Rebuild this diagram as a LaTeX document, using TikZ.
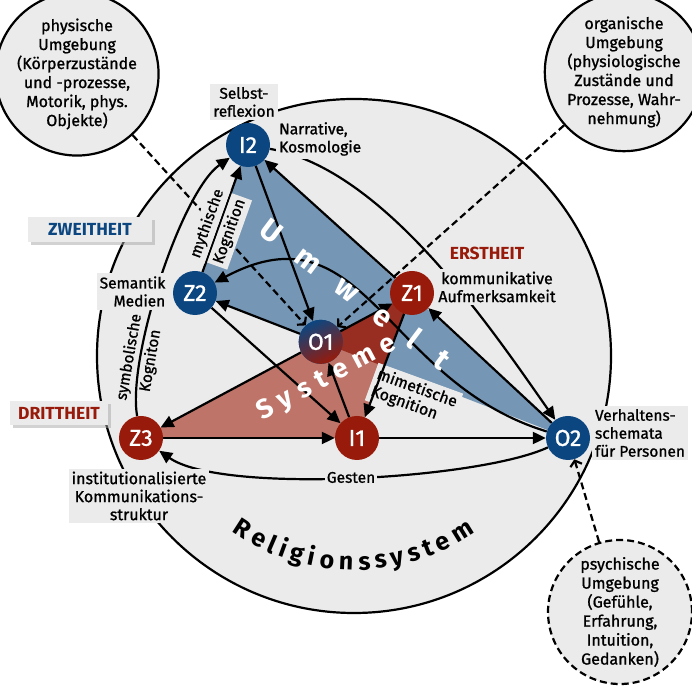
\documentclass[tikz,border=0pt]{standalone}
\usepackage{fontspec}
\setmainfont{Fira Sans}[UprightFeatures={FakeBold=1.1}]
\usetikzlibrary{arrows.meta,shadows}

\definecolor{bgray}{RGB}{235,235,235}
\definecolor{nblue}{RGB}{12,70,128}
\definecolor{nred}{RGB}{152,26,10}
\definecolor{tblue}{RGB}{117,150,181}
\definecolor{tred}{RGB}{190,116,104}
\definecolor{tdark}{RGB}{152,45,33}

\pgfdeclarelayer{front}
\pgfsetlayers{main,front}

\newcommand{\lblfont}{\fontsize{15.5}{18}\selectfont}

\tikzset{
  zone/.style={circle, fill=nblue, text=white, minimum size=44pt, inner sep=0pt,
    font=\fontsize{23}{23}\selectfont},
  zonered/.style={zone, fill=nred},
  flow/.style={line width=2.2pt, -{Triangle[length=13pt,width=12pt]}},
  dashlink/.style={line width=2.2pt, dash pattern=on 7pt off 4pt,
    -{Straight Barb[length=5pt,width=12pt]}},
  lbl/.style={fill=bgray, inner sep=3pt, font=\lblfont},
  world/.style={circle, draw, line width=2.2pt, fill=bgray, inner sep=0pt,
    align=center, font=\fontsize{16}{19}\selectfont},
  stage/.style={fill=bgray, font=\bfseries\fontsize{17.5}{17.5}\selectfont,
    drop shadow={shadow xshift=3pt, shadow yshift=-3pt, fill=black!35}},
  bigword/.style={text=white, font=\bfseries\fontsize{#1}{#1}\selectfont},
  rlg/.style={anchor=base, inner sep=0pt, font=\bfseries\fontsize{25}{25}\selectfont}
}

\begin{document}
\begin{tikzpicture}[x=1pt,y=1pt]
\path[use as bounding box, fill=white] (0,0) rectangle (692,692);

\coordinate (ctr) at (354,336);
\coordinate (i2) at (248,547);
\coordinate (z2) at (195,399);
\coordinate (z1) at (412,399);
\coordinate (z3) at (141,254);
\coordinate (i1) at (357,254);
\coordinate (o2) at (568,254);
\coordinate (o1) at (intersection of z3--z1 and z2--o2);

\begin{pgfonlayer}{front}
  \node[zone] (I2) at (i2) {I2};
  \node[zone] (Z2) at (z2) {Z2};
  \node[zone] (O2) at (o2) {O2};
  \node[zonered] (Z1) at (z1) {Z1};
  \node[zonered] (Z3) at (z3) {Z3};
  \node[zonered] (I1) at (i1) {I1};
  \node[zone, top color=nblue, bottom color=nred, shading angle=25] (O1) at (o1) {O1};
\end{pgfonlayer}

% Religionssystem
\draw[line width=2.2pt, fill=bgray] (ctr) circle[radius=257];
\fill[tblue] (i2) -- (z2) -- (o2) -- cycle;
\fill[tred] (z3) -- (z1) -- (i1) -- cycle;
\begin{scope}
  \clip (i2) -- (z2) -- (o2) -- cycle;
  \fill[tdark] (z3) -- (z1) -- (i1) -- cycle;
\end{scope}
\foreach \ch/\a in {R/237.2,e/242.5,l/246.7,i/249.9,g/254.0,i/258.2,o/262.5,n/267.8,
                    s/272.9,s/277.4,y/282.0,s/286.8,t/291.0,e/295.5,m/301.8}
  \node[rlg, rotate=\a-270] at ([shift={(\a:214)}]ctr) {\ch};

% Umgebungen
\node[world, minimum size=146pt] (phys) at (77,618)
  {physische\\Umgebung\\(Körperzustände\\und -prozesse,\\Motorik, phys.\\Objekte)};
\node[world, minimum size=140pt] (org) at (624,620)
  {organische\\Umgebung\\(physiologische\\Zustände und\\Prozesse, Wahr-\\nehmung)};
\node[world, minimum size=144pt, dash pattern=on 7pt off 4pt] (psy) at (620,80)
  {psychische\\Umgebung\\(Gefühle,\\Erfahrung,\\Intuition,\\Gedanken)};

\draw[dashlink] (phys) -- (O1);
\draw[dashlink] (org) -- (O1);
\draw[dashlink] (psy) -- (O2);

\node[lbl, rotate=-20, align=left, font=\fontsize{16}{18}\selectfont] (mim) at (414,295)
  {mimetische\\Kognition};

% Relationen
\draw[flow] (Z2) -- node[pos=.42, sloped, above, lbl, inner sep=3pt] {mythische}
  node[pos=.42, sloped, below, lbl, inner sep=3pt] {Kognition} (I2);
\draw[flow] (Z3) to[out=100, in=215, looseness=.55]
  node[pos=.24, sloped, above, inner sep=2pt, font=\lblfont] {symbolische}
  node[pos=.24, sloped, below, inner sep=2pt, font=\lblfont] {Kogniton} (I2);
\draw[flow] (I2) -- (O1);
\draw[flow] (Z1) -- (I2);
\draw[flow] (I2) to[out=-10, in=125, looseness=.75] (O2);
\draw[flow] (O2) to[out=163, in=28, looseness=1.2] (Z2);
\draw[flow] (O2) -- (Z1);
\draw[flow] (O1) -- (Z1);
\draw[flow] (O1) -- (Z3);
\draw[flow] (O1) -- (Z2);
\draw[flow] (Z2) -- (I1);
\draw[flow] (Z1) -- (I1);
\draw[flow] (I1) -- (O1);
\draw[flow] (Z3) -- (I1);
\draw[flow] (I1) -- (O2);
\draw[flow] (O2) to[out=205, in=-35, looseness=.5] node[lbl, inner sep=2pt] {Gesten} (Z3);

% Beschriftungen
\node[lbl, align=center] at (244,590) {Selbst-\\reflexion};
\node[lbl, align=left, anchor=west] at (276,553) {Narrative,\\Kosmologie};
\node[lbl, align=right] at (132.5,400.5) {Semantik\\Medien};
\node[lbl, align=center, font=\fontsize{16}{18}\selectfont] at (497,405)
  {kommunikative\\Aufmerksamkeit};
\node[lbl, align=center, font=\fontsize{16}{18}\selectfont] at (139,196)
  {institutionalisierte\\Kommunikations-\\struktur};
\node[lbl, align=left] at (640,259) {Verhaltens-\\schemata\\für Personen};
\node[stage, text=nblue, minimum width=124pt, minimum height=25pt] at (90,462.5) {ZWEITHEIT};
\node[stage, text=nred, minimum width=98pt, minimum height=24pt] at (59,279) {DRITTHEIT};
\node[text=nred, font=\bfseries\fontsize{17.5}{17.5}\selectfont] at (487,439) {ERSTHEIT};

% Umwelt / Systeme
\node[bigword=30, rotate=-37] at (355.5,398.3)
  {U\hspace{25pt}m\hspace{25pt}w\hspace{25pt}e\hspace{25pt}l\hspace{25pt}t};
\node[bigword=27, rotate=28] at (326.9,313.5)
  {S\hspace{8pt}y\hspace{8pt}s\hspace{8pt}t\hspace{8pt}e\hspace{8pt}m\hspace{8pt}e};
\end{tikzpicture}
\end{document}
